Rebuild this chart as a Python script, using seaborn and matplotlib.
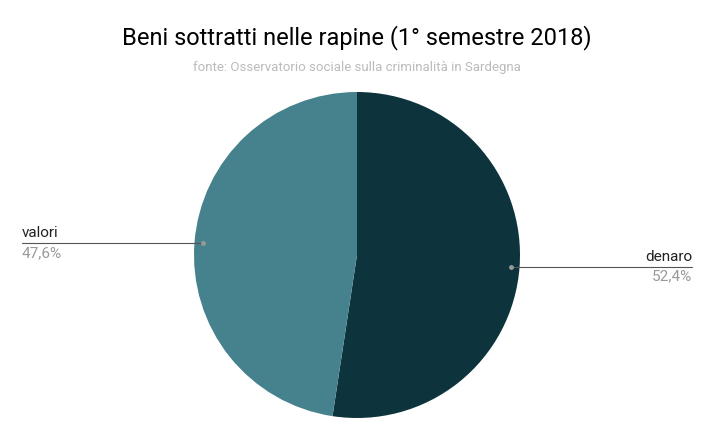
import numpy as np
import matplotlib
matplotlib.use("Agg")
import matplotlib.pyplot as plt
import seaborn as sns

sns.set_style("white")
plt.rcParams['font.family'] = ['Roboto', 'DejaVu Sans']

labels = ["denaro", "valori"]
values = [52.4, 47.6]
colors = ["#0d343d", "#46828d"]
title = "Beni sottratti nelle rapine (1° semestre 2018)"
subtitle = "fonte: Osservatorio sociale sulla criminalità in Sardegna"

W, H = 714, 441
fig = plt.figure(figsize=(W / 100, H / 100), dpi=100)
ax = fig.add_axes([0, 0, 1, 1])
ax.set_xlim(0, W)
ax.set_ylim(0, H)
ax.set_aspect("equal")
ax.axis("off")

cx, cy, r = 357, H - 255, 163
wedges, _ = ax.pie(values, colors=colors, startangle=90, counterclock=False,
                   center=(cx, cy), radius=r, frame=True,
                   wedgeprops=dict(linewidth=0))
ax.set_xlim(0, W)
ax.set_ylim(0, H)
ax.axis("off")

for w, lab, v in zip(wedges, labels, values):
    ang = np.deg2rad((w.theta1 + w.theta2) / 2)
    px, py = cx + 0.95 * r * np.cos(ang), cy + 0.95 * r * np.sin(ang)
    right = np.cos(ang) > 0
    ex = 692 if right else 22
    ax.plot([px, ex], [py, py], color="#555555", lw=0.8)
    ax.plot(px, py, "o", ms=2.5, color="#999999")
    ha = "right" if right else "left"
    ax.text(ex, py + 3, lab, ha=ha, va="bottom", fontsize=11, color="#222222")
    ax.text(ex, py - 3, f"{v:.1f}%".replace(".", ","), ha=ha, va="top",
            fontsize=11, color="#999999")

fig.text(0.5, 1 - 38 / H, title, ha="center", va="center", fontsize=17, color="#000000")
fig.text(0.5, 1 - 68 / H, subtitle, ha="center", va="center", fontsize=9.5, color="#bbbbbb")

fig.savefig("out.png", dpi=100)
